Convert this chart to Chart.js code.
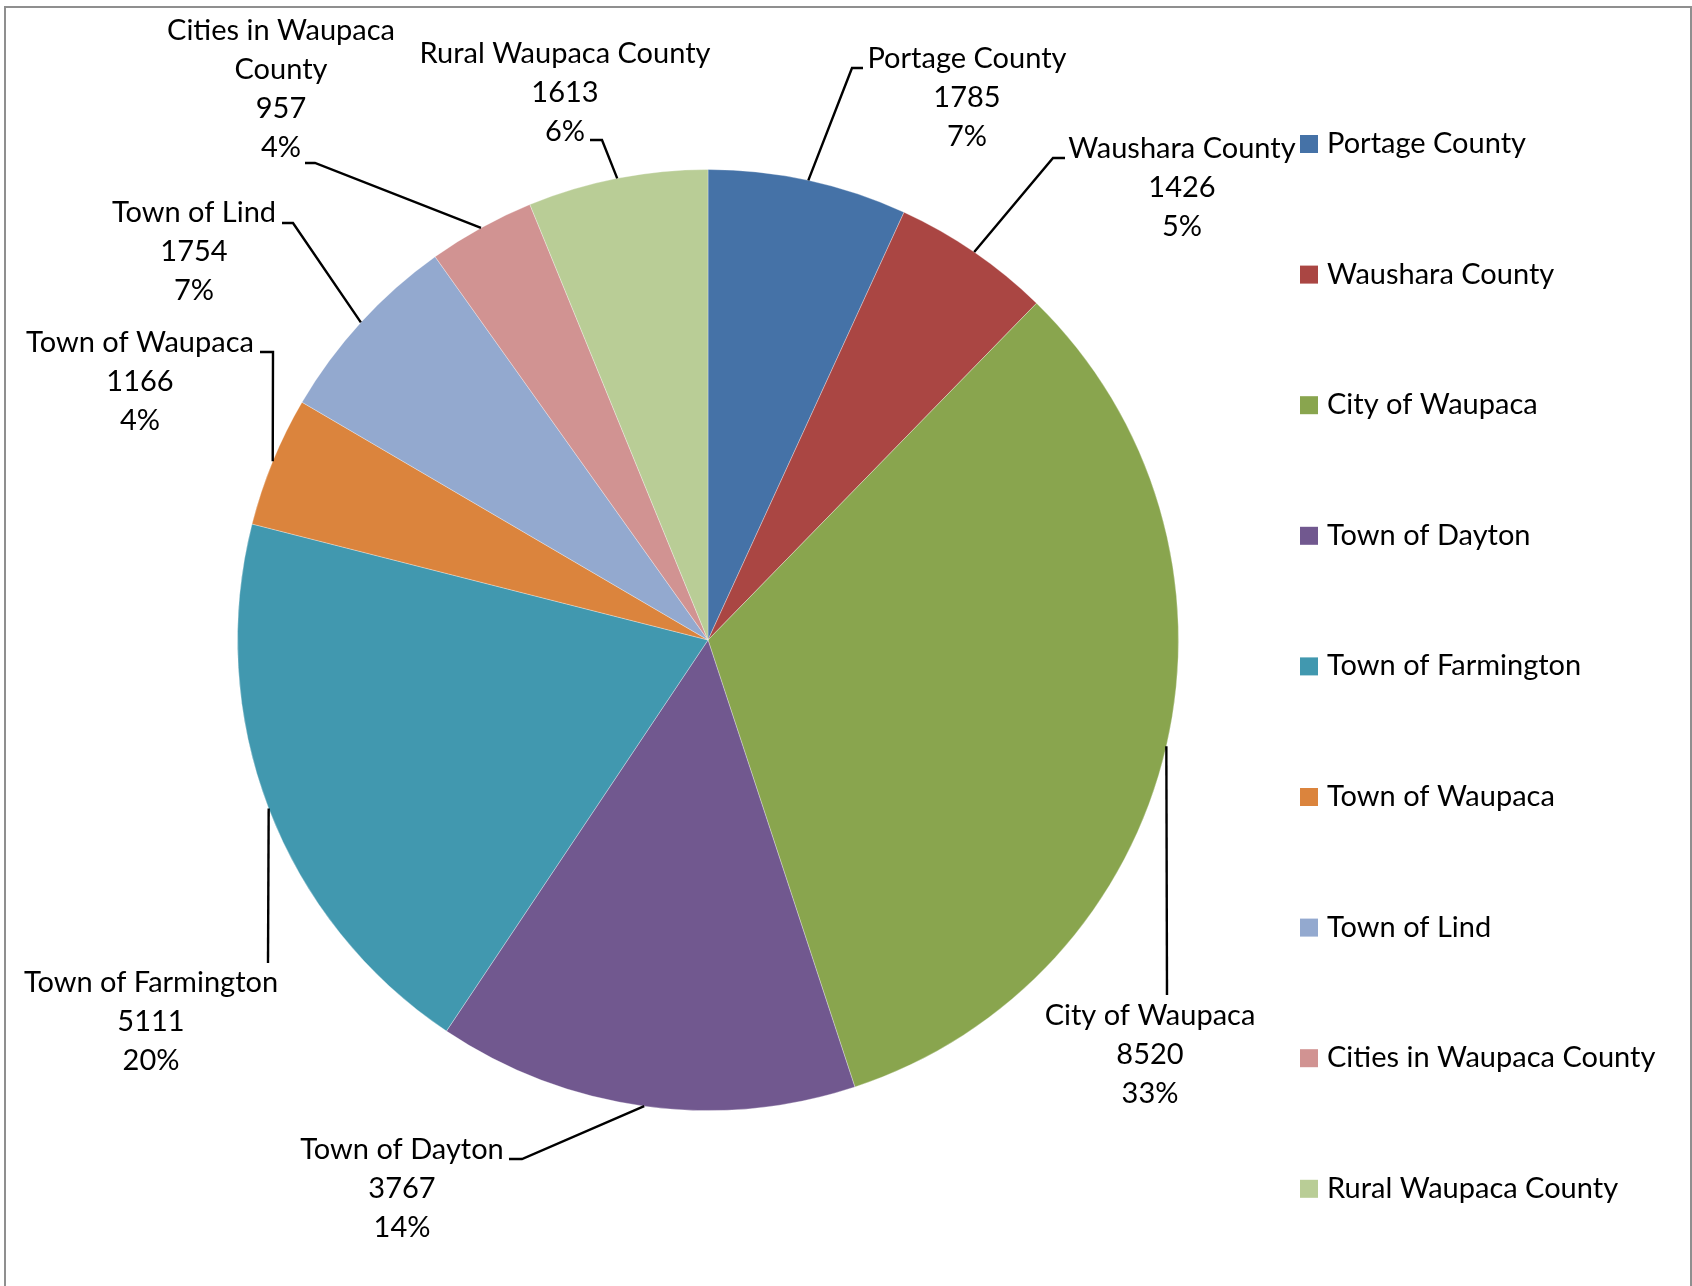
<!DOCTYPE html>
<html>
<head>
<meta charset="utf-8">
<script src="https://cdn.jsdelivr.net/npm/chart.js@4.4.1/dist/chart.umd.min.js"></script>
<style>
  html, body { margin: 0; padding: 0; background: #fff; overflow: hidden; }
  #wrap { position: relative; width: 1692px; height: 1286px; }
  #frame { position: absolute; left: 4px; top: 6px; width: 1688px; height: 1320px; border: 2px solid #8f8f8f; box-sizing: border-box; }
  #pie { position: absolute; left: 0; top: 0; }
</style>
</head>
<body>
<div id="wrap">
  <div id="frame"></div>
  <canvas id="pie" width="1692" height="1286"></canvas>
</div>
<script>
// Slice names (clockwise from 12 o'clock) and their values
var categories = [
    'Portage County',
    'Waushara County',
    'City of Waupaca',
    'Town of Dayton',
    'Town of Farmington',
    'Town of Waupaca',
    'Town of Lind',
    'Cities in Waupaca County',
    'Rural Waupaca County'
];
var values = [1785, 1426, 8520, 3767, 5111, 1166, 1754, 957, 1613];

// Excel 2007 style palette
var colors = ['#4572A7', '#AA4643', '#89A54E', '#71588F', '#4198AF', '#DB843D', '#93A9CF', '#D19392', '#B9CD96'];

// name lines used in the data labels (one label wraps onto two lines)
var labelNames = [
    ['Portage County'],
    ['Waushara County'],
    ['City of Waupaca'],
    ['Town of Dayton'],
    ['Town of Farmington'],
    ['Town of Waupaca'],
    ['Town of Lind'],
    ['Cities in Waupaca', 'County'],
    ['Rural Waupaca County']
];

// where each data label sits: text centre x, first baseline y,
// leader elbow (ex, ey) and end of the short horizontal stub (hx)
var labelSpots = [
    { tx: 967,  ty: 68,   ex: 852,  ey: 68,   hx: 863 },
    { tx: 1182, ty: 158,  ex: 1053, ey: 158,  hx: 1065 },
    { tx: 1150, ty: 1025, ex: 1167, ey: 995,  hx: 1167 },
    { tx: 402,  ty: 1159, ex: 522,  ey: 1159, hx: 509 },
    { tx: 151,  ty: 992,  ex: 268,  ey: 963,  hx: 268 },
    { tx: 140,  ty: 352,  ex: 273,  ey: 352,  hx: 260 },
    { tx: 194,  ty: 222,  ex: 293,  ey: 223,  hx: 282 },
    { tx: 281,  ty: 40,   ex: 315,  ey: 163,  hx: 305 },
    { tx: 565,  ty: 63,   ex: 602,  ey: 140,  hx: 590 }
];

var FONT = '29px Lato';
var LINE_H = 39;

var total = values.reduce((a, b) => a + b, 0);

// Draws the leader lines, the data labels and the legend on the right
var labelPlugin = {
    id: 'excelLabels',
    afterDatasetsDraw: function(chart) {
        var ctx = chart.ctx;
        var arcs = chart.getDatasetMeta(0).data;
        ctx.save();
        ctx.font = FONT;
        ctx.fillStyle = '#000';
        ctx.strokeStyle = '#000';
        ctx.lineWidth = 2.4;

        arcs.forEach(function(arc, i) {
            var p = arc.getProps(['x', 'y', 'startAngle', 'endAngle', 'outerRadius'], true);
            var mid = (p.startAngle + p.endAngle) / 2;
            var ax = p.x + Math.cos(mid) * p.outerRadius;
            var ay = p.y + Math.sin(mid) * p.outerRadius;
            var s = labelSpots[i];

            // leader line
            ctx.beginPath();
            ctx.moveTo(ax, ay);
            ctx.lineTo(s.ex, s.ey);
            ctx.lineTo(s.hx, s.ey);
            ctx.stroke();

            // label text: name, value, percentage
            var lines = labelNames[i].concat([String(values[i]), Math.round(values[i] / total * 100) + '%']);
            ctx.textAlign = 'center';
            ctx.textBaseline = 'alphabetic';
            lines.forEach(function(t, k) {
                ctx.fillText(t, s.tx, s.ty + k * LINE_H);
            });
        });

        // legend
        ctx.textAlign = 'left';
        categories.forEach(function(name, i) {
            var base = 153 + i * 130.6;
            ctx.fillStyle = colors[i];
            ctx.fillRect(1300, base - 18, 18, 18);
            ctx.fillStyle = '#000';
            ctx.fillText(name, 1327, base);
        });
        ctx.restore();
    }
};

var ctx = document.getElementById('pie').getContext('2d');
new Chart(ctx, {
    type: 'pie',
    data: {
        labels: categories,
        datasets: [{
            data: values,
            backgroundColor: colors,
            borderColor: 'rgba(255,255,255,0.3)',
            borderWidth: 1
        }]
    },
    options: {
        responsive: false,
        animation: false,
        layout: {
            padding: { left: 237, top: 169, right: 513, bottom: 175 }
        },
        plugins: {
            legend: { display: false },
            tooltip: { enabled: false }
        }
    },
    plugins: [labelPlugin]
});
</script>
</body>
</html>
